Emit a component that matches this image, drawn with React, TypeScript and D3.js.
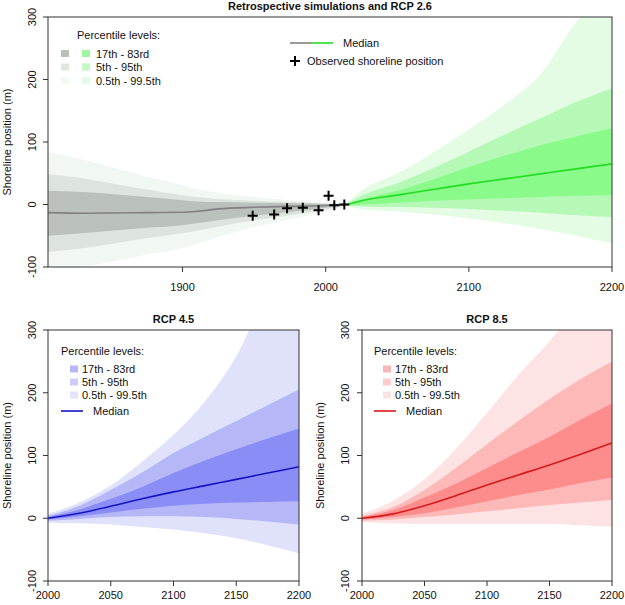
import React from 'react';
import * as d3 from 'd3';

// ---------- Data ----------
// Retrospective simulations (top panel, grey)
const retroYears = [1806, 1830, 1850, 1875, 1900, 1910, 1925, 1950, 1975, 2000, 2015];
const retroMedian = [-13, -14, -13.5, -13, -12.5, -11, -7, -4.5, -3, -1.5, 0];
const retroP17 = [-50, -46, -42, -37, -33, -30, -25, -18, -12, -5, -1];
const retroP83 = [22, 20, 17, 12, 7, 5, 4, 3, 2, 1, 0.5];
const retroP5 = [-76, -70, -63, -54, -46, -42, -35, -25, -17, -8, -2];
const retroP95 = [49, 42, 34, 24, 15, 12, 9, 6, 4, 2, 1];
const retroP05 = [-110, -100, -92, -80, -70, -63, -52, -36, -24, -11, -3];
const retroP995 = [84, 72, 60, 45, 31, 25, 19, 12, 7, 3, 2];

// Observed shoreline positions
const obsYears = [1949, 1964, 1973, 1984, 1995, 2002, 2006, 2013];
const obsValues = [-18, -16, -6, -5, -9, 14, -1, 0];

// RCP 2.6 projection (top panel, green)
const rcp26Years = [2015, 2025, 2050, 2075, 2100, 2125, 2150, 2175, 2200];
const rcp26Median = [0, 6, 15, 24, 33, 41, 49, 57, 65];
const rcp26P17 = [-1, 0, 3, 6, 8, 10, 12, 14, 15];
const rcp26P83 = [1, 8, 22, 40, 60, 78, 95, 109, 122];
const rcp26P5 = [-2, -3, -4, -5, -7, -10, -13, -17, -20];
const rcp26P95 = [2, 14, 34, 58, 85, 112, 138, 164, 186];
const rcp26P05 = [-3, -7, -11, -16, -22, -30, -39, -50, -62];
const rcp26P995 = [3, 22, 50, 83, 120, 160, 208, 292, 350];

// RCP 4.5 projection (bottom left, blue)
const rcp45Years = [2000, 2025, 2050, 2075, 2100, 2125, 2150, 2175, 2200];
const rcp45Median = [0, 8, 19, 31, 42, 52, 62, 72, 82];
const rcp45P17 = [-2, 3, 9, 15, 20, 23, 25, 26, 27];
const rcp45P83 = [2, 14, 31, 50, 72, 92, 110, 127, 143];
const rcp45P5 = [-4, -1, 2, 3, 3, 2, -1, -5, -10];
const rcp45P95 = [4, 20, 45, 73, 104, 130, 155, 180, 205];
const rcp45P05 = [-7, -8, -10, -14, -18, -24, -32, -43, -56];
const rcp45P995 = [7, 25, 52, 90, 133, 186, 258, 365, 470];

// RCP 8.5 projection (bottom right, red)
const rcp85Years = [2000, 2025, 2050, 2075, 2100, 2125, 2150, 2175, 2200];
const rcp85Median = [0, 7, 20, 36, 53, 69, 85, 102, 120];
const rcp85P17 = [-2, 2, 8, 17, 27, 37, 46, 56, 65];
const rcp85P83 = [2, 13, 33, 55, 80, 105, 130, 157, 183];
const rcp85P5 = [-4, -2, 2, 6, 11, 16, 21, 25, 29];
const rcp85P95 = [4, 18, 45, 80, 118, 155, 190, 222, 250];
const rcp85P05 = [-6, -8, -9, -9, -9, -9, -9, -11, -13];
const rcp85P995 = [7, 28, 62, 110, 168, 228, 282, 345, 415];

const yTicks = [-100, 0, 100, 200, 300];
const topXTicks = [1900, 2000, 2100, 2200];
const bottomXTicks = [2000, 2050, 2100, 2150, 2200];
const legendLabels = ['17th - 83rd', '5th - 95th', '0.5th - 99.5th'];

// ---------- Styles ----------
const FONT = "'Liberation Sans', Arial, Helvetica, sans-serif";
const AXIS = '#333';

type Series = {
  years: number[]; median: number[];
  p05: number[]; p5: number[]; p17: number[]; p83: number[]; p95: number[]; p995: number[];
};
type Palette = { light: string; mid: string; dark: string; line: string };

const retro: Series = { years: retroYears, median: retroMedian, p05: retroP05, p5: retroP5, p17: retroP17, p83: retroP83, p95: retroP95, p995: retroP995 };
const rcp26: Series = { years: rcp26Years, median: rcp26Median, p05: rcp26P05, p5: rcp26P5, p17: rcp26P17, p83: rcp26P83, p95: rcp26P95, p995: rcp26P995 };
const rcp45: Series = { years: rcp45Years, median: rcp45Median, p05: rcp45P05, p5: rcp45P5, p17: rcp45P17, p83: rcp45P83, p95: rcp45P95, p995: rcp45P995 };
const rcp85: Series = { years: rcp85Years, median: rcp85Median, p05: rcp85P05, p5: rcp85P5, p17: rcp85P17, p83: rcp85P83, p95: rcp85P95, p995: rcp85P995 };

const greyPal: Palette = { light: '#f1f7f1', mid: '#dde4dd', dark: '#bac1ba', line: '#808080' };
const greenPal: Palette = { light: '#e3fce3', mid: '#b6f9b6', dark: '#8afa8a', line: '#22dd22' };
const bluePal: Palette = { light: '#e0e2fb', mid: '#b5b7f6', dark: '#8b8df6', line: '#1414c4' };
const redPal: Palette = { light: '#fde3e3', mid: '#fdb8b8', dark: '#fd8c8c', line: '#d41a1a' };
const greenLegend: Palette = { light: '#e6fbe6', mid: '#c4f8c4', dark: '#a0f5a0', line: '#22dd22' };
const greyLegend: Palette = { light: '#f3f9f3', mid: '#dfe5df', dark: '#b9bfb9', line: '#808080' };
const blueLegend: Palette = { light: '#e3e4fa', mid: '#cdcef8', dark: '#b7b8f6', line: '#1414c4' };
const redLegend: Palette = { light: '#fde3e3', mid: '#fdcdcd', dark: '#fbb7b7', line: '#d41a1a' };

function Bands({ s, pal, x, y }: { s: Series; pal: Palette; x: d3.ScaleLinear<number, number>; y: d3.ScaleLinear<number, number> }) {
  const area = (lo: number[], hi: number[]) =>
    d3.area<number>()
      .x((d) => x(d))
      .y0((_, i) => y(lo[i]))
      .y1((_, i) => y(hi[i]))
      .curve(d3.curveMonotoneX)(s.years) || '';
  const line = d3.line<number>().x((d) => x(d)).y((_, i) => y(s.median[i])).curve(d3.curveMonotoneX)(s.years) || '';
  return (
    <g>
      <path d={area(s.p05, s.p995)} fill={pal.light} />
      <path d={area(s.p5, s.p95)} fill={pal.mid} />
      <path d={area(s.p17, s.p83)} fill={pal.dark} />
      <path d={line} fill="none" stroke={pal.line} strokeWidth={1.6} />
    </g>
  );
}

function Frame({ x, y, xTicks, labelOffset, yLabelX, yTickX, title, id, children }: any) {
  const [l, r] = x.range();
  const [b, t] = y.range();
  return (
    <g>
      <defs>
        <clipPath id={id}><rect x={l} y={t} width={r - l} height={b - t} /></clipPath>
      </defs>
      <g clipPath={`url(#${id})`}>{children}</g>
      <rect x={l} y={t} width={r - l} height={b - t} fill="none" stroke={AXIS} strokeWidth={1} />
      {xTicks.map((v: number) => (
        <g key={v}>
          <line x1={x(v)} x2={x(v)} y1={b} y2={b + 5} stroke={AXIS} />
          <text x={x(v)} y={b + labelOffset} textAnchor="middle" fontSize={11} fontFamily={FONT} fill="#111">{v}</text>
        </g>
      ))}
      {yTicks.map((v) => (
        <g key={v}>
          <line x1={l - 5} x2={l} y1={y(v)} y2={y(v)} stroke={AXIS} />
          <text transform={`translate(${yTickX},${y(v)}) rotate(-90)`} textAnchor="middle" fontSize={11} fontFamily={FONT} fill="#111">{v}</text>
        </g>
      ))}
      <text transform={`translate(${yLabelX},${(t + b) / 2}) rotate(-90)`} textAnchor="middle" fontSize={11} fontFamily={FONT} fill="#111">Shoreline position (m)</text>
      <text x={(l + r) / 2} y={t - 7} textAnchor="middle" fontSize={11} fontWeight="bold" fontFamily={FONT} fill="#111">{title}</text>
    </g>
  );
}

// Legend for the single-scenario panels
function Legend({ x0, y0, pal, fills }: { x0: number; y0: number; pal: Palette; fills: Palette }) {
  const cols = [fills.dark, fills.mid, fills.light];
  return (
    <g fontFamily={FONT} fontSize={11} fill="#111">
      <text x={x0} y={y0}>Percentile levels:</text>
      {cols.map((f, i) => (
        <g key={i}>
          <rect x={x0 + 9} y={y0 + 10.5 + i * 13} width={8} height={7} fill={f} />
          <text x={x0 + 21} y={y0 + 18 + i * 13}>{legendLabels[i]}</text>
        </g>
      ))}
      <line x1={x0} x2={x0 + 22} y1={y0 + 56} y2={y0 + 56} stroke={pal.line} strokeWidth={1.6} />
      <text x={x0 + 32} y={y0 + 60}>Median</text>
    </g>
  );
}

export default function App() {
  // Top panel
  const xTop = d3.scaleLinear().domain([1806, 2200]).range([48, 612]);
  const yTop = d3.scaleLinear().domain([-100, 300]).range([267, 17]);
  // Bottom panels
  const xBL = d3.scaleLinear().domain([2000, 2200]).range([48, 299]);
  const xBR = d3.scaleLinear().domain([2000, 2200]).range([362, 612]);
  const yBot = d3.scaleLinear().domain([-100, 300]).range([581, 330]);

  const topCols = [
    [greyLegend.dark, greenLegend.dark],
    [greyLegend.mid, greenLegend.mid],
    [greyLegend.light, greenLegend.light],
  ];

  return (
    <svg width={625} height={605} style={{ position: 'absolute', left: 0, top: 0, background: '#fff' }}>
      <rect width={625} height={605} fill="#fff" />
      <Frame x={xTop} y={yTop} xTicks={topXTicks} labelOffset={24} yLabelX={11} yTickX={36} title="Retrospective simulations and RCP 2.6" id="clipTop">
        <Bands s={retro} pal={greyPal} x={xTop} y={yTop} />
        <Bands s={rcp26} pal={greenPal} x={xTop} y={yTop} />
        {obsYears.map((yr, i) => (
          <path key={i} d={`M${xTop(yr) - 5},${yTop(obsValues[i])}h10M${xTop(yr)},${yTop(obsValues[i]) - 5}v10`} stroke="#000" strokeWidth={2} />
        ))}
      </Frame>
      {/* Top percentile legend */}
      <g fontFamily={FONT} fontSize={11} fill="#111">
        <text x={77} y={39}>Percentile levels:</text>
        {topCols.map((c, i) => (
          <g key={i}>
            <rect x={61} y={50 + i * 13.5} width={8} height={7} fill={c[0]} />
            <rect x={82} y={50 + i * 13.5} width={8} height={7} fill={c[1]} />
            <text x={96} y={57.5 + i * 13.5}>{legendLabels[i]}</text>
          </g>
        ))}
      </g>
      {/* Median / Observed legend */}
      <g fontFamily={FONT} fontSize={11} fill="#111">
        <line x1={290} x2={311} y1={43} y2={43} stroke={greyPal.line} strokeWidth={1.6} />
        <line x1={311} x2={333} y1={43} y2={43} stroke={greenPal.line} strokeWidth={1.6} />
        <text x={343} y={47}>Median</text>
        <path d="M290,61h10M295,56v10" stroke="#000" strokeWidth={2} />
        <text x={307} y={65}>Observed shoreline position</text>
      </g>

      <Frame x={xBL} y={yBot} xTicks={bottomXTicks} labelOffset={18} yLabelX={11} yTickX={36} title="RCP 4.5" id="clipBL">
        <Bands s={rcp45} pal={bluePal} x={xBL} y={yBot} />
      </Frame>
      <Legend x0={61} y0={355} pal={bluePal} fills={blueLegend} />

      <Frame x={xBR} y={yBot} xTicks={bottomXTicks} labelOffset={18} yLabelX={324} yTickX={349} title="RCP 8.5" id="clipBR">
        <Bands s={rcp85} pal={redPal} x={xBR} y={yBot} />
      </Frame>
      <Legend x0={374} y0={355} pal={redPal} fills={redLegend} />
    </svg>
  );
}
